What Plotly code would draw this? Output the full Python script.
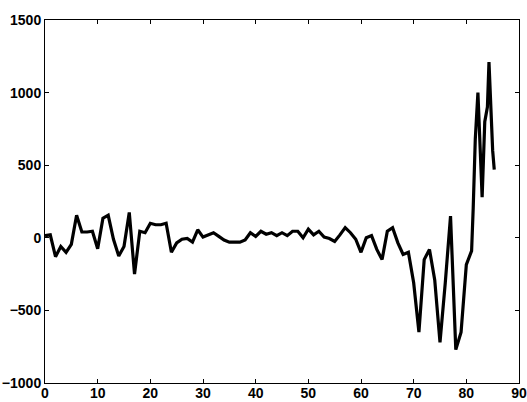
import plotly.graph_objects as go

x_vals = list(range(0, 81)) + [81, 81.3, 81.7, 82.2, 82.6, 83.0, 83.5, 84.0, 84.3, 84.7, 85.0, 85.3]
y_vals = [15, 20, -130, -60, -100, -45, 155, 40, 40, 45,
          -75, 135, 155, -10, -125, -60, 175, -250, 45, 35,
          100, 90, 90, 100, -100, -35, -10, -5, -30, 55,
          5, 20, 35, 10, -15, -30, -30, -30, -15, 35,
          10, 45, 25, 35, 15, 35, 15, 45, 45, 0,
          60, 20, 45, 5, -5, -25, 20, 70, 35, -10,
          -100, 0, 15, -80, -150, 45, 70, -35, -115, -100,
          -310, -650, -150, -80, -290, -720, -310, 150, -770, -650,
          -185, -90, 200, 680, 1000, 600, 280, 800, 900, 1210, 850, 600, 470]

x_ticks = [0, 10, 20, 30, 40, 50, 60, 70, 80, 90]
y_ticks = [-1000, -500, 0, 500, 1000, 1500]

fig = go.Figure()
fig.add_trace(go.Scatter(x=x_vals, y=y_vals, mode="lines",
                         line=dict(color="black", width=3.2, shape="linear"),
                         showlegend=False))

axis_common = dict(showgrid=False, zeroline=False, showline=True, linecolor="black",
                   linewidth=1, mirror="ticks", ticks="inside", ticklen=4,
                   tickcolor="black", automargin=False,
                   tickfont=dict(family="Liberation Sans", size=14, color="black", weight="bold"))

fig.update_xaxes(range=[0, 90], tickvals=x_ticks, ticklabelstandoff=-3, **axis_common)
fig.update_yaxes(range=[-1000, 1500], tickvals=y_ticks, ticklabelstandoff=0, **axis_common)

fig.update_layout(width=527, height=402, margin=dict(l=45, r=8, t=20, b=19),
                  plot_bgcolor="white", paper_bgcolor="white")

fig.write_html(
    "out.html",
    config={"displayModeBar": False},
    post_script="document.body.style.margin='0';document.body.style.overflow='hidden';",
)
